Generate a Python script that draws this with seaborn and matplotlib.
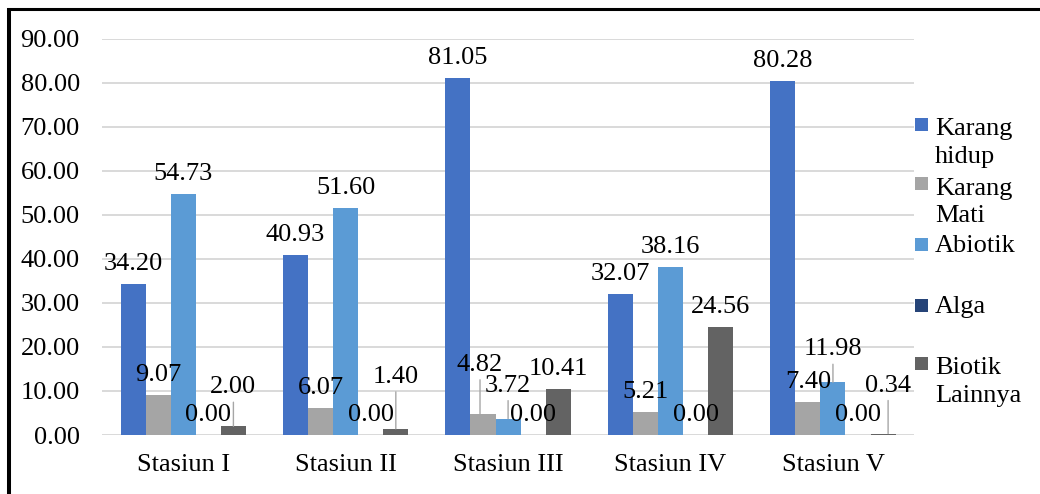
import matplotlib
matplotlib.use("Agg")
import matplotlib.pyplot as plt
from matplotlib.lines import Line2D
from matplotlib.patches import Rectangle
from matplotlib.transforms import offset_copy
import numpy as np
import pandas as pd
import seaborn as sns

# Stations and benthic cover categories (%)
stations = ["Stasiun I", "Stasiun II", "Stasiun III", "Stasiun IV", "Stasiun V"]
categories = ["Karang hidup", "Karang Mati", "Abiotik", "Alga", "Biotik Lainnya"]
legend_labels = ["Karang\nhidup", "Karang\nMati", "Abiotik", "Alga", "Biotik\nLainnya"]

karang_hidup = [34.20, 40.93, 81.05, 32.07, 80.28]
karang_mati = [9.07, 6.07, 4.82, 5.21, 7.40]
abiotik = [54.73, 51.60, 3.72, 38.16, 11.98]
alga = [0.00, 0.00, 0.00, 0.00, 0.00]
biotik_lainnya = [2.00, 1.40, 10.41, 24.56, 0.34]

y_ticks = [0, 10, 20, 30, 40, 50, 60, 70, 80, 90]

series = [karang_hidup, karang_mati, abiotik, alga, biotik_lainnya]
colors = ["#4472C4", "#A5A5A5", "#5B9BD5", "#264478", "#636363"]
palette = dict(zip(categories, colors))

df = pd.DataFrame(
    [(s, c, v) for c, vals in zip(categories, series) for s, v in zip(stations, vals)],
    columns=["Stasiun", "Kategori", "Persen"],
)

sns.set_theme(style="white")
plt.rcParams["font.family"] = ["Liberation Serif", "DejaVu Serif"]
FS = 19

fig = plt.figure(figsize=(10.4, 4.94), dpi=100)
ax = fig.add_axes([0.0981, 0.1194, 0.879 - 0.0981, 0.922 - 0.1194])

sns.barplot(
    data=df, x="Stasiun", y="Persen", hue="Kategori",
    order=stations, hue_order=categories, palette=palette,
    width=0.772, saturation=1, linewidth=0, legend=False, ax=ax,
)

ax.set_ylim(0, 90)
ax.set_yticks(y_ticks)
ax.set_yticklabels([f"{t:.2f}" for t in y_ticks], fontsize=FS, color="black")
ax.set_xticks(range(len(stations)))
ax.set_xticklabels(stations, fontsize=FS, color="black")
ax.set_xlabel("")
ax.set_ylabel("")
ax.tick_params(axis="y", length=0, pad=16)
ax.tick_params(axis="x", length=0, pad=14)
for sp in ax.spines.values():
    sp.set_visible(False)
ax.yaxis.grid(True, color="#D9D9D9", linewidth=1.4)
ax.xaxis.grid(False)
ax.set_axisbelow(True)

# Data labels: default sits just above the bar; crowded ones are lifted with a leader line.
PX = 0.72  # pixels -> points at 100 dpi
default_rise = 14
lifted = {
    (0, 4): (33, 0),
    (1, 4): (46, 0),
    (2, 1): (43, -3),
    (2, 2): (27, 0),
    (4, 2): (27, 0),
    (4, 4): (42, 5),
}
for h, (container, vals) in enumerate(zip(ax.containers, series)):
    for s, (bar, v) in enumerate(zip(container.patches, vals)):
        x = bar.get_x() + bar.get_width() / 2
        rise, dx = lifted.get((s, h), (default_rise, 0))
        ax.annotate(
            f"{v:.2f}", xy=(x, v), xytext=(dx * PX, rise * PX),
            textcoords="offset points", ha="center", va="baseline",
            fontsize=FS, color="black",
        )
        if (s, h) in lifted:
            base = offset_copy(ax.transData, fig=fig, x=dx * PX, y=0, units="points")
            ax.annotate(
                "", xy=(x, v), xycoords=base,
                xytext=(0, (rise - 9) * PX), textcoords="offset points",
                arrowprops=dict(arrowstyle="-", color="#A6A6A6", lw=1.0,
                                shrinkA=0, shrinkB=0),
            )

# Legend on the right, one slot per category; the swatch lines up with the first text line
W, H = 1040, 494
slot_y = [124.5, 184, 244.5, 305, 363.5]
line_step = 30
for lab, col, yc in zip(legend_labels, colors, slot_y):
    fig.add_artist(Rectangle((915 / W, 1 - (yc + 6.5) / H), 13 / W, 13 / H,
                             transform=fig.transFigure, color=col, lw=0))
    n_lines = lab.count("\n") + 1
    last_baseline = yc + 8 + line_step * (n_lines - 1)
    fig.text(935 / W, 1 - last_baseline / H, lab, fontsize=FS, va="baseline",
             ha="left", linespacing=1.3, color="black")

# Frame lines on the left and top edges
fig.add_artist(Line2D([9 / W, 9 / W], [0, 1 - 8 / H], transform=fig.transFigure,
                      color="black", lw=2.9, solid_capstyle="butt"))
fig.add_artist(Line2D([7 / W, 1], [1 - 9.5 / H, 1 - 9.5 / H], transform=fig.transFigure,
                      color="black", lw=2.2, solid_capstyle="butt"))

fig.savefig("out.png", dpi=100, facecolor="white")
